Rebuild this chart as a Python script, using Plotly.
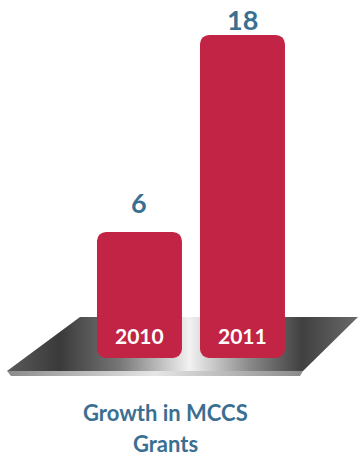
import plotly.graph_objects as go

# ---- data ----
categories = ["2010", "2011"]
values = [6, 18]
title_lines = ["Growth in MCCS", "Grants"]

# ---- style ----
BAR_COLOR = "#C12444"
BLUE = "#3B6F92"
FONT = "Lato"
BAR_BOTTOM = -1.67   # bars continue a little below zero, into the platform
LABEL_SHIFTS = [12, -2]  # pixel offsets of value labels above bar tops

W, H = 360, 459

fig = go.Figure()

# Platform (decorative) on pixel-coordinate axes x/y
plat_x = [80, 358, 303, 7, 80]
plat_y = [317, 317, 371, 371, 317]
fig.add_trace(go.Scatter(
    x=plat_x, y=plat_y, mode="lines", fill="toself", line=dict(width=0),
    fillgradient=dict(type="horizontal", colorscale=[
        [0.0, "#5a5a5a"], [0.15, "#3a3a3a"], [0.32, "#767676"],
        [0.52, "#f2f2f2"], [0.69, "#8a8a8a"], [0.84, "#404040"], [1.0, "#6a6a6a"]]),
    hoverinfo="skip", showlegend=False, xaxis="x", yaxis="y"))
edge_x = [7, 303, 300, 11, 7]
edge_y = [371, 371, 376, 376, 371]
fig.add_trace(go.Scatter(
    x=edge_x, y=edge_y, mode="lines", fill="toself", line=dict(width=0),
    fillgradient=dict(type="horizontal", colorscale=[
        [0.0, "#8a8a8a"], [0.5, "#e6e6e6"], [1.0, "#8a8a8a"]]),
    hoverinfo="skip", showlegend=False, xaxis="x", yaxis="y"))

# Bars on overlaid data axes x2/y2
fig.add_trace(go.Bar(
    x=categories, y=[v - BAR_BOTTOM for v in values], base=[BAR_BOTTOM] * len(values),
    marker=dict(color=BAR_COLOR, line=dict(width=0)), width=0.825,
    hoverinfo="skip", showlegend=False, xaxis="x2", yaxis="y2"))

annotations = []
for i, (c, v) in enumerate(zip(categories, values)):
    annotations.append(dict(x=i, y=v, xref="x2", yref="y2", text=str(v),
                            showarrow=False, yanchor="bottom", yshift=LABEL_SHIFTS[i],
                            borderpad=0,
                            font=dict(family=FONT, size=27, color=BLUE, weight="bold")))
    annotations.append(dict(x=i, y=BAR_BOTTOM, xref="x2", yref="y2", text=c,
                            showarrow=False, yanchor="bottom", yshift=8,
                            font=dict(family=FONT, size=21, color="white", weight="bold")))

annotations.append(dict(x=165.5 / W, y=1 - 412 / H, xref="paper", yref="paper",
                        text=title_lines[0], showarrow=False, yanchor="middle",
                        font=dict(family=FONT, size=22, color=BLUE, weight="bold")))
annotations.append(dict(x=165.5 / W, y=1 - 443 / H, xref="paper", yref="paper",
                        text=title_lines[1], showarrow=False, yanchor="middle",
                        font=dict(family=FONT, size=22, color=BLUE, weight="bold")))

hidden = dict(showgrid=False, zeroline=False, showticklabels=False, ticks="",
              showline=False, fixedrange=True)
fig.update_layout(
    width=W, height=H, margin=dict(l=0, r=0, t=0, b=0),
    paper_bgcolor="white", plot_bgcolor="white",
    barmode="overlay", barcornerradius=9,
    xaxis=dict(range=[0, W], domain=[0, 1], **hidden),
    yaxis=dict(range=[H, 0], domain=[0, 1], **hidden),
    xaxis2=dict(type="category", range=[-1.354, 2.141], overlaying="x", **hidden),
    yaxis2=dict(range=[-7.83, 20.13], overlaying="y", **hidden),
    annotations=annotations,
    showlegend=False,
)

fig.write_html("out.html")
